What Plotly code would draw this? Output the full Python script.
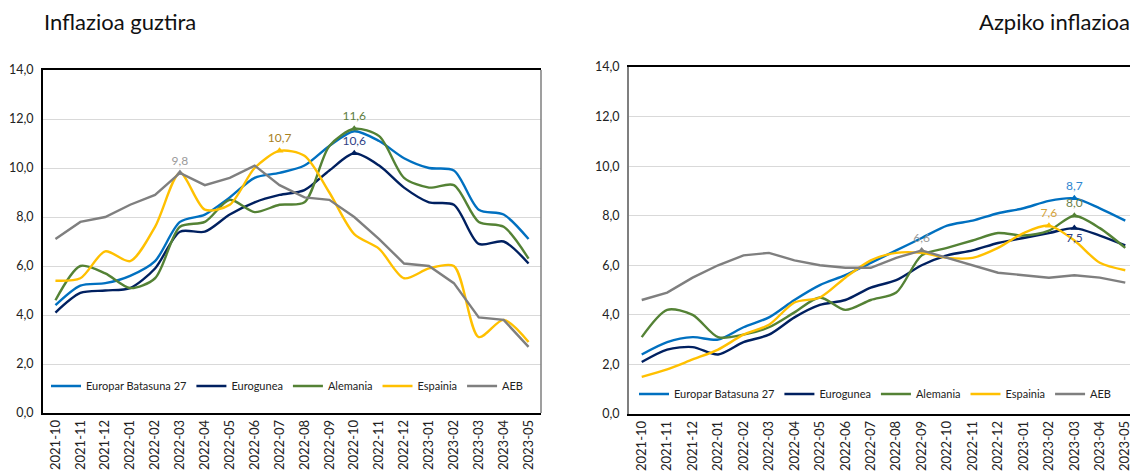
import plotly.graph_objects as go
from plotly.subplots import make_subplots

# hilabeteak (categories)
months = [
    '2021-10', '2021-11', '2021-12', '2022-01', '2022-02', '2022-03', '2022-04',
    '2022-05', '2022-06', '2022-07', '2022-08', '2022-09', '2022-10', '2022-11',
    '2022-12', '2023-01', '2023-02', '2023-03', '2023-04', '2023-05',
]

# Inflazioa guztira
total_eu27 = [4.4, 5.2, 5.3, 5.6, 6.2, 7.8, 8.1, 8.8, 9.6, 9.8, 10.1, 10.9, 11.5, 11.1, 10.4, 10.0, 9.9, 8.3, 8.1, 7.1]
total_ea = [4.1, 4.9, 5.0, 5.1, 5.9, 7.4, 7.4, 8.1, 8.6, 8.9, 9.1, 9.9, 10.6, 10.1, 9.2, 8.6, 8.5, 6.9, 7.0, 6.1]
total_de = [4.6, 6.0, 5.7, 5.1, 5.5, 7.6, 7.8, 8.7, 8.2, 8.5, 8.6, 10.9, 11.6, 11.3, 9.6, 9.2, 9.3, 7.8, 7.6, 6.3]
total_es = [5.4, 5.5, 6.6, 6.2, 7.6, 9.8, 8.3, 8.5, 10.0, 10.7, 10.5, 9.0, 7.3, 6.7, 5.5, 5.9, 6.0, 3.1, 3.8, 2.9]
total_us = [7.1, 7.8, 8.0, 8.5, 8.9, 9.8, 9.3, 9.6, 10.1, 9.3, 8.8, 8.7, 8.0, 7.1, 6.1, 6.0, 5.3, 3.9, 3.8, 2.7]

# Azpiko inflazioa
core_eu27 = [2.4, 2.9, 3.1, 3.0, 3.5, 3.9, 4.6, 5.2, 5.6, 6.1, 6.6, 7.1, 7.6, 7.8, 8.1, 8.3, 8.6, 8.7, 8.3, 7.8]
core_ea = [2.1, 2.6, 2.7, 2.4, 2.9, 3.2, 3.9, 4.4, 4.6, 5.1, 5.4, 6.0, 6.4, 6.6, 6.9, 7.1, 7.3, 7.5, 7.2, 6.8]
core_de = [3.1, 4.2, 4.0, 3.1, 3.2, 3.5, 4.1, 4.7, 4.2, 4.6, 4.9, 6.4, 6.7, 7.0, 7.3, 7.2, 7.4, 8.0, 7.5, 6.7]
core_es = [1.5, 1.8, 2.2, 2.6, 3.2, 3.6, 4.5, 4.7, 5.5, 6.2, 6.5, 6.5, 6.3, 6.3, 6.7, 7.3, 7.6, 7.0, 6.1, 5.8]
core_us = [4.6, 4.9, 5.5, 6.0, 6.4, 6.5, 6.2, 6.0, 5.9, 5.9, 6.3, 6.6, 6.3, 6.0, 5.7, 5.6, 5.5, 5.6, 5.5, 5.3]

names = ['Europar Batasuna 27', 'Eurogunea', 'Alemania', 'Espainia', 'AEB']
colors = ['#0070C0', '#002060', '#548235', '#FFC000', '#7F7F7F']
label_colors = ['#2E86D0', '#2F3F85', '#5E7D3E', '#A8801E', '#9A9A9A']
y_ticks = [0, 2, 4, 6, 8, 10, 12, 14]

# which point gets a value label: (series index, month, text position)
total_labels = [(4, '2022-03', 'top center'), (3, '2022-07', 'top center'),
                (2, '2022-10', 'top center'), (1, '2022-10', 'top center')]
core_labels = [(0, '2023-03', 'top center'), (2, '2023-03', 'top center'),
               (1, '2023-03', 'bottom center'), (3, '2023-02', 'top center'),
               (4, '2022-09', 'top center')]

FONT = 'Lato, "Open Sans", sans-serif'

# the page body has an 8px margin, so the figure is laid out 8px up/left
W, H = 1130, 464
OFF = 8


def px(x):
    return (x - OFF) / W


def py(y):
    return 1 - (y - OFF) / H


fig = make_subplots(rows=1, cols=2)


def add_panel(fig, col, series, labels, legend_name, label_colors_override=None):
    for i, (name, ys) in enumerate(zip(names, series)):
        shape = 'linear' if name == 'AEB' else 'spline'
        fig.add_trace(go.Scatter(
            x=months, y=ys, name=name, mode='lines',
            line=dict(color=colors[i], width=2.4, shape=shape, smoothing=0.8),
            legend=legend_name,
        ), row=1, col=col)
    for idx, month, pos in labels:
        k = months.index(month)
        lc = label_colors[idx]
        if label_colors_override and idx in label_colors_override:
            lc = label_colors_override[idx]
        fig.add_trace(go.Scatter(
            x=[month], y=[series[idx][k]], mode='markers+text',
            marker=dict(symbol='triangle-up', size=7, color=colors[idx]),
            texttemplate='%{y:.1f}',
            textposition=pos, textfont=dict(color=lc, size=12, family=FONT),
            showlegend=False, hoverinfo='skip',
        ), row=1, col=col)


add_panel(fig, 1, [total_eu27, total_ea, total_de, total_es, total_us], total_labels, 'legend')
add_panel(fig, 2, [core_eu27, core_ea, core_de, core_es, core_us], core_labels, 'legend2',
          {3: '#D6A43A', 2: '#6B7F4A'})

xtick_font = dict(family=FONT, size=13, color='#222222')
ytick_font = dict(family=FONT, size=12.5, color='#222222')
legend_font = dict(family=FONT, size=11, color='#222222')
title_font = dict(family=FONT, size=22, color='#111111')

fig.update_layout(
    width=W, height=H,
    margin=dict(l=0, r=0, t=0, b=0),
    paper_bgcolor='white', plot_bgcolor='white',
    separators=',.',
    font=dict(family=FONT, size=12, color='#222222'),
    xaxis=dict(domain=[px(43), px(541)]),
    xaxis2=dict(domain=[px(629), 1.0]),
    yaxis=dict(domain=[py(413), py(70)]),
    yaxis2=dict(domain=[py(414), py(67)]),
    legend=dict(orientation='h', x=px(46), y=py(386), yanchor='middle', xanchor='left',
                bgcolor='rgba(0,0,0,0)', font=legend_font, itemwidth=30),
    legend2=dict(orientation='h', x=px(634), y=py(394), yanchor='middle', xanchor='left',
                 bgcolor='rgba(0,0,0,0)', font=legend_font, itemwidth=30),
    annotations=[
        dict(text='Inflazioa guztira', x=px(42), y=py(21), xref='paper', yref='paper',
             xanchor='left', yanchor='middle', showarrow=False, font=title_font),
        dict(text='Azpiko inflazioa', x=px(1132), y=py(21), xref='paper', yref='paper',
             xanchor='right', yanchor='middle', showarrow=False, font=title_font),
    ],
)

for c in (1, 2):
    fig.update_xaxes(
        type='category', range=[-0.5, len(months) - 0.5],
        tickangle=-90, tickfont=xtick_font, showgrid=False,
        showline=True, linecolor='#000000', linewidth=1.5, mirror=True,
        ticks='', automargin=False, row=1, col=c,
    )
    fig.update_yaxes(
        range=[0, 14], tickvals=y_ticks, tickformat='.1f', tickfont=ytick_font,
        showgrid=True, gridcolor='#D9D9D9', gridwidth=1, zeroline=False, ticklabelstandoff=5,
        showline=True, linewidth=2, ticks='', automargin=False, row=1, col=c,
    )

fig.update_yaxes(linecolor='#000000', mirror=False, row=1, col=1)
fig.update_yaxes(linecolor='#7F7F7F', row=1, col=2)

# right edge of the left panel is grey
fig.add_shape(type='line', xref='x domain', yref='y domain', x0=1, x1=1, y0=0, y1=1,
              line=dict(color='#7F7F7F', width=1.5))

fig.write_html('out.html')
